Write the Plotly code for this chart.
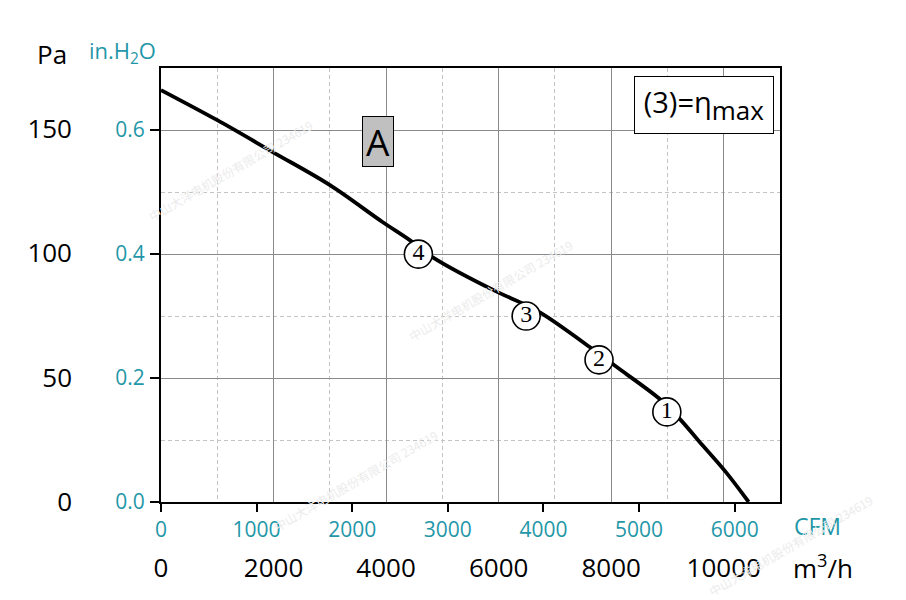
import plotly.graph_objects as go

# ---- data ----
flow_m3h = [0, 993, 1986, 2996, 3936, 4415, 4823, 6011, 6365, 6755, 7642, 8050, 8883, 9238, 9557, 10035, 10443]
press_pa = [165.5, 153.5, 140.6, 127.4, 112.5, 105.3, 98.4, 84.0, 80.4, 75.9, 61.9, 55.0, 41.0, 32.9, 24.5, 12.1, 0.0]

pt_labels = ["4", "3", "2", "1"]
pt_flow = [4574, 6489, 7784, 8989]
pt_press = [99.6, 74.7, 57.1, 36.2]

m3h_ticks = [0, 2000, 4000, 6000, 8000, 10000]
cfm_ticks = [0, 1000, 2000, 3000, 4000, 5000, 6000]
pa_ticks = [0, 50, 100, 150]
inh2o_ticks = [0.0, 0.2, 0.4, 0.6]

M3H_PER_CFM = 1.69901
PA_PER_INH2O = 249.089
X_MAX = 11000
YIN_MAX = 0.7

TEAL = "#1f97a8"
FONT = "Open Sans"

curve_in = [p / PA_PER_INH2O for p in press_pa]
pts_in = [p / PA_PER_INH2O for p in pt_press]

fig = go.Figure()

fig.add_trace(go.Scatter(
    x=flow_m3h, y=curve_in, mode="lines",
    line=dict(color="black", width=3.8, shape="spline", smoothing=1.0),
    hoverinfo="skip", showlegend=False))

fig.add_trace(go.Scatter(
    x=pt_flow, y=pts_in, mode="markers+text",
    text=pt_labels, textposition="middle center",
    textfont=dict(family="Liberation Serif", size=24, color="black"),
    marker=dict(size=28, color="white", line=dict(color="black", width=1.6)),
    hoverinfo="skip", showlegend=False))

# invisible traces to activate the CFM and Pa axes
fig.add_trace(go.Scatter(x=[0], y=[0], xaxis="x2", yaxis="y", mode="markers",
                         marker=dict(opacity=0), hoverinfo="skip", showlegend=False))
fig.add_trace(go.Scatter(x=[0], y=[0], xaxis="x2", yaxis="y2", mode="markers",
                         marker=dict(opacity=0), hoverinfo="skip", showlegend=False))

fig.update_layout(
    width=906, height=600,
    margin=dict(l=161, r=126, t=68, b=98),
    paper_bgcolor="white", plot_bgcolor="white",
    font=dict(family=FONT, color="black"),
    xaxis=dict(
        range=[0, X_MAX], tickmode="array", tickvals=m3h_ticks,
        ticktext=[str(v) for v in m3h_ticks],
        ticks="", showgrid=True, gridcolor="#8a8a8a", gridwidth=1,
        minor=dict(dtick=1000, tick0=0, showgrid=True, griddash="4px,3px",
                   gridcolor="#c4c4c4", gridwidth=1, ticks=""),
        zeroline=False, showline=True, linecolor="black", linewidth=2, mirror=True,
        tickfont=dict(size=26, color="black", family=FONT),
        ticklabelstandoff=42,
    ),
    xaxis2=dict(
        overlaying="x", anchor="y", side="bottom",
        range=[0, X_MAX / M3H_PER_CFM], tickmode="array", tickvals=cfm_ticks,
        ticks="outside", ticklen=9, tickwidth=2, tickcolor="black",
        showgrid=False, zeroline=False, showline=False,
        tickfont=dict(size=21, color=TEAL, family=FONT),
        ticklabelstandoff=0,
    ),
    yaxis=dict(
        range=[0, YIN_MAX], tickmode="array", tickvals=inh2o_ticks,
        ticktext=[f"{v:.1f}" for v in inh2o_ticks],
        ticks="outside", ticklen=9, tickwidth=2, tickcolor="black",
        showgrid=True, gridcolor="#8a8a8a", gridwidth=1,
        minor=dict(dtick=0.1, tick0=0, showgrid=True, griddash="4px,3px",
                   gridcolor="#c4c4c4", gridwidth=1, ticks=""),
        zeroline=False, showline=True, linecolor="black", linewidth=2, mirror=True,
        tickfont=dict(size=21, color=TEAL, family=FONT),
        ticklabelstandoff=1,
    ),
    yaxis2=dict(
        overlaying="y", anchor="x", side="left",
        range=[0, YIN_MAX * PA_PER_INH2O], tickmode="array", tickvals=pa_ticks,
        ticks="", showgrid=False, zeroline=False, showline=False,
        tickfont=dict(size=26, color="black", family=FONT),
        ticklabelstandoff=88,
    ),
)

L, R, T, B = 161, 780, 68, 502

def px(x):
    return (x - L) / (R - L)

def py(y):
    return (B - y) / (B - T)

def label(x, y, text, size, color, **kw):
    d = dict(x=px(x), y=py(y), xref="paper", yref="paper", text=text, showarrow=False,
             xanchor="center", yanchor="middle", font=dict(size=size, color=color))
    d.update(kw)
    return d

ann = [
    label(52, 54, "Pa", 26, "black"),
    label(122, 52, "in.H<sub>2</sub>O", 22, TEAL),
    label(817, 526, "CFM", 23, TEAL),
    label(823, 567, "m<sup>3</sup>/h", 26, "black"),
    label(378, 141, "A", 37, "black", bgcolor="#c0c0c0", bordercolor="black",
          borderwidth=1, borderpad=0, width=30, height=49),
    label(704, 105, "(3)=η<sub><span style='font-size:26px'>max</span></sub>", 29, "black",
          bgcolor="white", bordercolor="black", borderwidth=1, borderpad=0, width=138, height=56),
]

# faint watermarks
wm = "中山大洋电机股份有限公司 234619"
for (wx, wy) in [(230, 170), (490, 290), (355, 480), (790, 545)]:
    ann.append(label(wx, wy, wm, 12, "#ececec", textangle=-30))
    ann[-1]["font"]["family"] = "Noto Sans CJK SC"

fig.update_layout(annotations=ann)

fig.write_html("out.html", config={"displayModeBar": False},
               post_script="document.body.style.margin='0px';")
